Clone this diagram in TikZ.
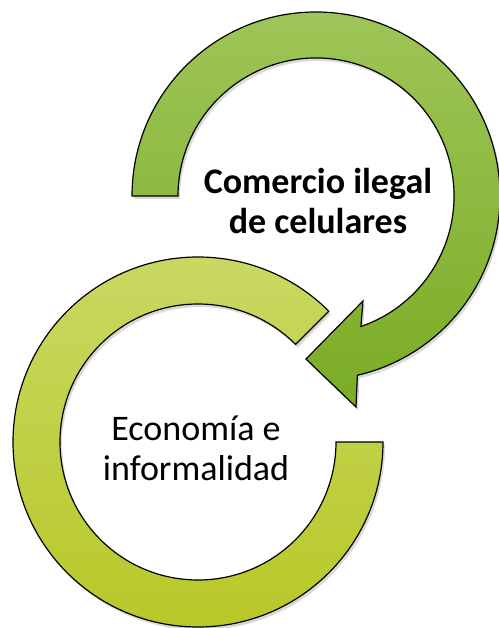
\documentclass[tikz,border=0pt]{standalone}
\usepackage{fontspec}
\setmainfont{Carlito}
\usetikzlibrary{shadows}

\begin{document}
\begin{tikzpicture}[x=1pt, y=1pt,
  band/.style = {draw=black, line width=1.2pt, line join=miter,
    drop shadow={shadow xshift=2pt, shadow yshift=-3pt, opacity=0.3}},
  upper/.style = {band, top color={rgb,255:red,158;green,197;blue,88}, bottom color={rgb,255:red,122;green,172;blue,36}},
  lower/.style = {band, top color={rgb,255:red,201;green,216;blue,98}, bottom color={rgb,255:red,184;green,200;blue,40}},
  label/.style = {align=center, font=\fontsize{36}{40}\selectfont}]
\useasboundingbox (0,0) rectangle (498,628);

% lower ring, open at the upper right
\begin{scope}[shift={(198,186)}]
\draw[lower] (0:185) arc[start angle=0, end angle=-315, radius=185]
  -- (45:138) arc[start angle=45, end angle=360, radius=138] -- cycle;
\end{scope}

% upper arrow, clockwise into the gap
\begin{scope}[shift={(316,432)}]
\draw[upper] (180:184) arc[start angle=180, end angle=-77, radius=184]
  -- (40,-211) -- (-10,-163) -- (47,-105)
  -- (-71:138) arc[start angle=-71, end angle=180, radius=138] -- cycle;
\end{scope}

\node[label, font=\fontsize{36}{40}\selectfont\bfseries] (comercio) at (318,427) {Comercio ilegal\\de celulares};
\node[label] (economia) at (196,180) {Economía e\\informalidad};

\end{tikzpicture}
\end{document}
